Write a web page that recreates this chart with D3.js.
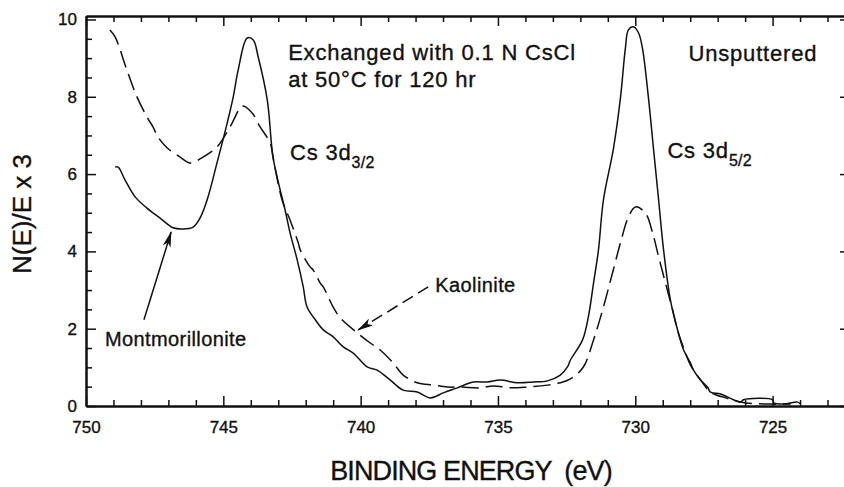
<!DOCTYPE html>
<html>
<head>
<meta charset="utf-8">
<script src="https://cdn.jsdelivr.net/npm/d3@7/dist/d3.min.js"></script>
<style>
  html, body { margin: 0; padding: 0; background: #fff; }
  svg { display: block; }
  text { font-family: "Liberation Sans", Arial, Helvetica, sans-serif; fill: #111; stroke: #111; stroke-width: 0.35px; }
</style>
</head>
<body>
<svg id="chart" width="844" height="487"></svg>
<script>
// Cs 3d XPS spectra of Cs-exchanged clays (binding energy in eV, N(E)/E x 3)
const montmorilloniteBE = [748.94, 748.83, 748.58, 748.21, 747.78, 747.30, 746.83, 746.47, 746.10, 745.85,
  745.59, 745.23, 744.86, 744.64, 744.46, 744.13, 743.91, 743.73, 743.40, 743.19, 742.93, 742.75,
  742.57, 742.31, 742.09, 741.95, 741.65, 741.36, 741.00, 740.63, 740.27, 739.76, 739.40, 738.92,
  738.45, 737.94, 737.46, 736.99, 736.48, 735.90, 735.39, 734.91, 734.29, 733.71, 733.20, 732.73,
  732.47, 732.36, 731.92, 731.71, 731.52, 731.34, 731.16, 730.79, 730.54, 730.36, 730.25, 730.07,
  729.88, 729.74, 729.52, 729.34, 729.15, 728.97, 728.72, 728.46, 728.24, 727.99, 727.88, 727.62,
  727.37, 727.26, 726.89, 726.42, 726.17, 726.06, 725.00, 724.96, 724.60, 724.09, 723.98];
const montmorilloniteN = [6.18, 6.18, 5.85, 5.41, 5.12, 4.86, 4.61, 4.58, 4.63, 4.86,
  5.33, 6.29, 7.32, 7.99, 8.69, 9.52, 9.47, 9.03, 7.92, 6.44, 5.59, 5.07,
  4.48, 3.78, 3.08, 2.56, 2.23, 1.97, 1.79, 1.53, 1.37, 1.01, 0.93, 0.67,
  0.41, 0.36, 0.21, 0.34, 0.47, 0.62, 0.62, 0.67, 0.60, 0.62, 0.65, 0.80,
  1.01, 1.19, 1.71, 2.30, 3.18, 4.04, 5.33, 6.68, 7.97, 9.26, 9.73, 9.81,
  9.65, 9.26, 7.97, 6.68, 5.33, 4.04, 2.74, 1.97, 1.45, 1.11, 0.93, 0.67,
  0.49, 0.36, 0.31, 0.16, 0.10, 0.16, 0.16, 0.08, 0.05, 0.10, 0.05];

const kaoliniteBE = [749.13, 748.94, 748.51, 748.14, 747.78, 747.56, 747.38, 747.05, 746.57, 746.21,
  745.74, 745.23, 744.86, 744.68, 744.39, 744.28, 743.95, 743.66, 743.29, 743.19, 742.86, 742.57,
  742.27, 742.20, 741.84, 741.73, 741.47, 741.36, 741.00, 740.74, 740.12, 739.65, 739.29, 738.81,
  738.45, 737.94, 737.35, 736.84, 736.37, 735.64, 735.17, 734.55, 733.93, 733.20, 732.73, 732.36,
  731.89, 731.52, 731.16, 730.83, 730.54, 730.25, 729.99, 729.63, 729.37, 729.15, 728.90, 728.64,
  728.43, 728.17, 727.99, 727.62, 727.26, 726.71, 725.98, 725.07, 724.34];
const kaoliniteN = [9.73, 9.55, 8.69, 7.99, 7.48, 7.22, 6.96, 6.68, 6.44, 6.29,
  6.44, 6.70, 7.09, 7.32, 7.71, 7.76, 7.58, 7.22, 6.80, 6.44, 5.33, 4.81,
  4.22, 4.04, 3.60, 3.52, 3.18, 3.08, 2.56, 2.28, 1.89, 1.63, 1.45, 1.11,
  0.80, 0.60, 0.54, 0.49, 0.49, 0.47, 0.52, 0.47, 0.49, 0.54, 0.60, 0.70,
  1.01, 1.71, 2.56, 3.44, 4.22, 4.89, 5.15, 4.99, 4.48, 3.86, 3.18, 2.48,
  1.89, 1.37, 1.06, 0.67, 0.36, 0.21, 0.08, 0.05, 0.05];

const xMajorTicks = [750, 745, 740, 735, 730, 725];
const yMajorTicks = [0, 2, 4, 6, 8, 10];

const svg = d3.select("#chart");
const plotLeft = 86, plotRight = 844, plotTop = 16, plotBottom = 406;

const x = d3.scaleLinear().domain([750, 722.4]).range([plotLeft, plotRight]);
const y = d3.scaleLinear().domain([0, 10.09]).range([plotBottom, plotTop]);

const xMinor = d3.range(723, 751, 1).filter(v => !xMajorTicks.includes(v));
const yMinor = d3.range(0, 10.01, 0.5).filter(v => !yMajorTicks.includes(v));

function styleAxis(g) {
  g.select(".domain").attr("stroke", "#111").attr("stroke-width", 2);
  g.selectAll(".tick line").attr("stroke", "#111").attr("stroke-width", 1.5);
  g.selectAll("text").attr("font-size", 17).attr("fill", "#111")
    .attr("font-family", "'Liberation Sans', Arial, sans-serif");
}

// bottom axis: major ticks with labels, minor ticks every 1 eV
svg.append("g").attr("transform", `translate(0,${plotBottom})`)
  .call(d3.axisBottom(x).tickValues(xMinor).tickSize(-6).tickSizeOuter(0).tickFormat(""))
  .call(styleAxis);
svg.append("g").attr("transform", `translate(0,${plotBottom})`)
  .call(d3.axisBottom(x).tickValues(xMajorTicks).tickSize(-10).tickSizeOuter(0).tickPadding(15).tickFormat(d3.format("d")))
  .call(styleAxis);

// top axis
svg.append("g").attr("transform", `translate(0,${plotTop})`)
  .call(d3.axisTop(x).tickValues(xMinor).tickSize(-6).tickSizeOuter(0).tickFormat(""))
  .call(styleAxis);
svg.append("g").attr("transform", `translate(0,${plotTop})`)
  .call(d3.axisTop(x).tickValues(xMajorTicks).tickSize(-10).tickSizeOuter(0).tickFormat(""))
  .call(styleAxis);

// left axis
svg.append("g").attr("transform", `translate(${plotLeft},0)`)
  .call(d3.axisLeft(y).tickValues(yMinor).tickSize(-6).tickSizeOuter(0).tickFormat(""))
  .call(styleAxis);
svg.append("g").attr("transform", `translate(${plotLeft},0)`)
  .call(d3.axisLeft(y).tickValues(yMajorTicks).tickSize(-10).tickSizeOuter(0).tickPadding(9).tickFormat(d3.format("d")))
  .call(styleAxis);

// right axis sits just past the edge of the frame
svg.append("g").attr("transform", `translate(${plotRight + 6},0)`)
  .call(d3.axisRight(y).tickValues(yMajorTicks).tickSize(-10).tickSizeOuter(0).tickFormat(""))
  .call(styleAxis);

// spectra
const line = d3.line().x(d => x(d[0])).y(d => y(d[1])).curve(d3.curveCatmullRom.alpha(0.5));

svg.append("path")
  .datum(montmorilloniteBE.map((b, i) => [b, montmorilloniteN[i]]))
  .attr("d", line).attr("fill", "none").attr("stroke", "#111").attr("stroke-width", 1.5);

svg.append("path")
  .datum(kaoliniteBE.map((b, i) => [b, kaoliniteN[i]]))
  .attr("d", line).attr("fill", "none").attr("stroke", "#111").attr("stroke-width", 1.5)
  .attr("stroke-dasharray", "17,7");

// arrowhead marker
const defs = svg.append("defs");
defs.append("marker").attr("id", "head")
  .attr("viewBox", "0 0 16 8").attr("refX", 15).attr("refY", 4)
  .attr("markerUnits", "userSpaceOnUse").attr("markerWidth", 16).attr("markerHeight", 8)
  .attr("orient", "auto")
  .append("path").attr("d", "M0,0 L16,4 L0,8 L4,4 Z").attr("fill", "#111");

// labelled arrows
const arrows = [
  { tail: [747.89, 2.23], tip: [746.90, 4.50], dash: null },
  { tail: [737.54, 3.08], tip: [740.09, 1.97], dash: "12,6" }
];
arrows.forEach(a => {
  svg.append("line")
    .attr("x1", x(a.tail[0])).attr("y1", y(a.tail[1]))
    .attr("x2", x(a.tip[0])).attr("y2", y(a.tip[1]))
    .attr("stroke", "#111").attr("stroke-width", 1.5)
    .attr("stroke-dasharray", a.dash)
    .attr("marker-end", "url(#head)");
});

function label(txt, bx, ny, size, spacing) {
  return svg.append("text").attr("x", x(bx)).attr("y", y(ny))
    .attr("font-size", size).attr("letter-spacing", spacing).text(txt);
}

label("Montmorillonite", 749.31, 1.55, 20, 0.4);
label("Kaolinite", 737.28, 2.95, 20, 0.4);
label("Exchanged with 0.1 N CsCl", 742.64, 8.95, 22, 0.8);
label("at 50°C for 120 hr", 742.64, 8.25, 22, 0.8);
label("Unsputtered", 728.06, 8.93, 22, 0.8);

function peakLabel(bx, ny, sub) {
  const t = svg.append("text").attr("x", x(bx)).attr("y", y(ny))
    .attr("font-size", 22).attr("letter-spacing", 0.8);
  t.append("tspan").text("Cs 3d");
  t.append("tspan").attr("font-size", 16).attr("dy", 8).attr("letter-spacing", 0.3).text(sub);
}
peakLabel(742.57, 6.36, "3/2");
peakLabel(728.83, 6.42, "5/2");

// axis titles
svg.append("text").attr("x", 471).attr("y", 480).attr("text-anchor", "middle")
  .attr("font-size", 27).attr("letter-spacing", -0.9).style("white-space", "pre").text("BINDING ENERGY  (eV)");
svg.append("text").attr("transform", "translate(31,214) rotate(-90)").attr("text-anchor", "middle")
  .attr("font-size", 26).text("N(E)/E x 3");
</script>
</body>
</html>
